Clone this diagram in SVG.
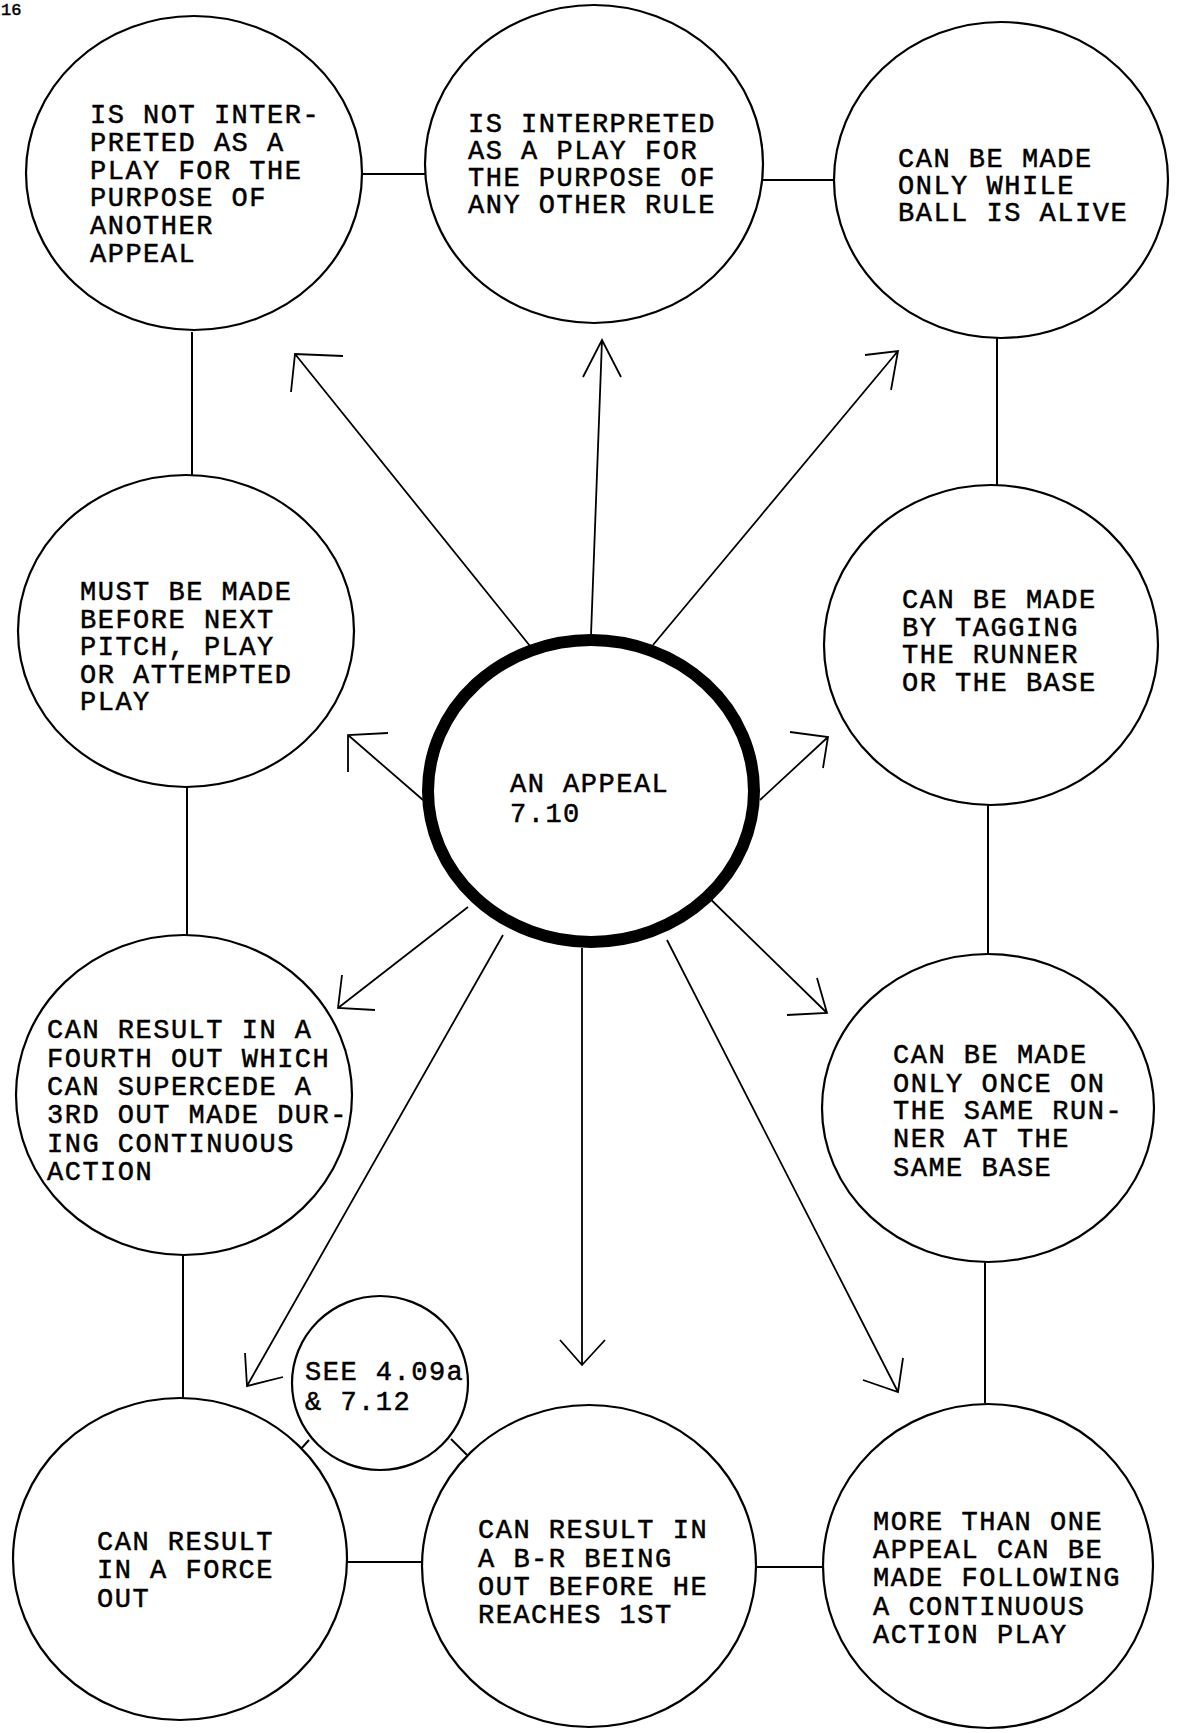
<svg xmlns="http://www.w3.org/2000/svg" width="1177" height="1733" viewBox="0 0 1177 1733">
<style>
.n{fill:#fff;stroke:#000;stroke-width:2.2}
.c{fill:#fff;stroke:#000;stroke-width:12}
.t{font-family:"Liberation Mono","DejaVu Sans Mono",monospace;font-size:27px;letter-spacing:1.5px;fill:#000;stroke:#000;stroke-width:0.5}
.l{stroke:#000;stroke-width:2;fill:none}
.a{stroke:#000;stroke-width:1.8;fill:none;stroke-linejoin:miter}
</style>
<rect width="1177" height="1733" fill="#fff"/>
<text x="1" y="15" class="t" style="font-size:17px;letter-spacing:0">16</text>
<g id="connectors">
<line class="l" x1="362" y1="174" x2="425" y2="174"/>
<line class="l" x1="763" y1="180" x2="835" y2="180"/>
<line class="l" x1="192" y1="332" x2="192" y2="475"/>
<line class="l" x1="997" y1="338" x2="997" y2="486"/>
<line class="l" x1="187" y1="787" x2="187" y2="935"/>
<line class="l" x1="988" y1="805" x2="988" y2="953"/>
<line class="l" x1="183" y1="1255" x2="183" y2="1398"/>
<line class="l" x1="985" y1="1262" x2="985" y2="1403"/>
<line class="l" x1="347" y1="1562" x2="422" y2="1562"/>
<line class="l" x1="757" y1="1567" x2="823" y2="1567"/>
<line class="l" x1="309" y1="1440" x2="300" y2="1450"/>
<line class="l" x1="451" y1="1439" x2="467" y2="1455"/>
<path class="a" d="M530 646 L295 354 M343 356 L295 354 L291 392"/>
<path class="a" d="M591 635 L602 340 M583 377 L602 340 L621 377"/>
<path class="a" d="M653 645 L898 351 M865 355 L898 351 L891 390"/>
<path class="a" d="M423 800 L348 735 M388 733 L348 735 L348 772"/>
<path class="a" d="M760 800 L828 737 M790 732 L828 737 L823 768"/>
<path class="a" d="M468 907 L338 1008 M342 975 L338 1008 L375 1010"/>
<path class="a" d="M698 887 L827 1013 M817 978 L827 1013 L787 1015"/>
<path class="a" d="M503 935 L247 1386 M245 1353 L247 1386 L283 1377"/>
<path class="a" d="M582 948 L582 1365 M560 1340 L582 1365 L605 1340"/>
<path class="a" d="M667 940 L898 1392 M863 1380 L898 1392 L903 1358"/>
</g>
<g id="n-not-interpreted">
<ellipse class="n" cx="194" cy="173" rx="168" ry="157"/>
<text class="t"><tspan x="90" y="123">IS NOT INTER-</tspan><tspan x="90" y="151">PRETED AS A</tspan><tspan x="90" y="179">PLAY FOR THE</tspan><tspan x="90" y="206">PURPOSE OF</tspan><tspan x="90" y="234">ANOTHER</tspan><tspan x="90" y="262">APPEAL</tspan></text>
</g>
<g id="n-interpreted">
<ellipse class="n" cx="594" cy="164" rx="169" ry="159"/>
<text class="t"><tspan x="468" y="132">IS INTERPRETED</tspan><tspan x="468" y="159">AS A PLAY FOR</tspan><tspan x="468" y="186">THE PURPOSE OF</tspan><tspan x="468" y="213">ANY OTHER RULE</tspan></text>
</g>
<g id="n-ball-alive">
<ellipse class="n" cx="1001" cy="180" rx="167" ry="158"/>
<text class="t"><tspan x="898" y="167">CAN BE MADE</tspan><tspan x="898" y="194">ONLY WHILE</tspan><tspan x="898" y="221">BALL IS ALIVE</tspan></text>
</g>
<g id="n-next-pitch">
<ellipse class="n" cx="186" cy="631" rx="168" ry="156"/>
<text class="t"><tspan x="80" y="600">MUST BE MADE</tspan><tspan x="80" y="628">BEFORE NEXT</tspan><tspan x="80" y="655">PITCH, PLAY</tspan><tspan x="80" y="683">OR ATTEMPTED</tspan><tspan x="80" y="710">PLAY</tspan></text>
</g>
<g id="n-tagging">
<ellipse class="n" cx="991" cy="645" rx="167" ry="160"/>
<text class="t"><tspan x="902" y="608">CAN BE MADE</tspan><tspan x="902" y="636">BY TAGGING</tspan><tspan x="902" y="663">THE RUNNER</tspan><tspan x="902" y="691">OR THE BASE</tspan></text>
</g>
<g id="n-appeal">
<ellipse class="c" cx="591" cy="791" rx="163" ry="151"/>
<text class="t"><tspan x="510" y="792">AN APPEAL</tspan><tspan x="510" y="822">7.10</tspan></text>
</g>
<g id="n-fourth-out">
<ellipse class="n" cx="184" cy="1095" rx="168" ry="160"/>
<text class="t"><tspan x="47" y="1038">CAN RESULT IN A</tspan><tspan x="47" y="1067">FOURTH OUT WHICH</tspan><tspan x="47" y="1095">CAN SUPERCEDE A</tspan><tspan x="47" y="1123">3RD OUT MADE DUR-</tspan><tspan x="47" y="1152">ING CONTINUOUS</tspan><tspan x="47" y="1180">ACTION</tspan></text>
</g>
<g id="n-once">
<ellipse class="n" cx="988" cy="1108" rx="166" ry="154"/>
<text class="t"><tspan x="893" y="1063">CAN BE MADE</tspan><tspan x="893" y="1092">ONLY ONCE ON</tspan><tspan x="893" y="1119">THE SAME RUN-</tspan><tspan x="893" y="1147">NER AT THE</tspan><tspan x="893" y="1176">SAME BASE</tspan></text>
</g>
<g id="n-see">
<ellipse class="n" cx="380" cy="1383" rx="88" ry="87"/>
<text class="t"><tspan x="305" y="1380">SEE 4.09a</tspan><tspan x="305" y="1410">&amp; 7.12</tspan></text>
</g>
<g id="n-force-out">
<ellipse class="n" cx="180" cy="1559" rx="167" ry="161"/>
<text class="t"><tspan x="97" y="1550">CAN RESULT</tspan><tspan x="97" y="1578">IN A FORCE</tspan><tspan x="97" y="1607">OUT</tspan></text>
</g>
<g id="n-br-out">
<ellipse class="n" cx="589" cy="1566" rx="167" ry="161"/>
<text class="t"><tspan x="478" y="1538">CAN RESULT IN</tspan><tspan x="478" y="1567">A B-R BEING</tspan><tspan x="478" y="1595">OUT BEFORE HE</tspan><tspan x="478" y="1623">REACHES 1ST</tspan></text>
</g>
<g id="n-more-than-one">
<ellipse class="n" cx="988" cy="1566" rx="165" ry="162"/>
<text class="t"><tspan x="873" y="1530">MORE THAN ONE</tspan><tspan x="873" y="1558">APPEAL CAN BE</tspan><tspan x="873" y="1586">MADE FOLLOWING</tspan><tspan x="873" y="1615">A CONTINUOUS</tspan><tspan x="873" y="1643">ACTION PLAY</tspan></text>
</g>
</svg>
